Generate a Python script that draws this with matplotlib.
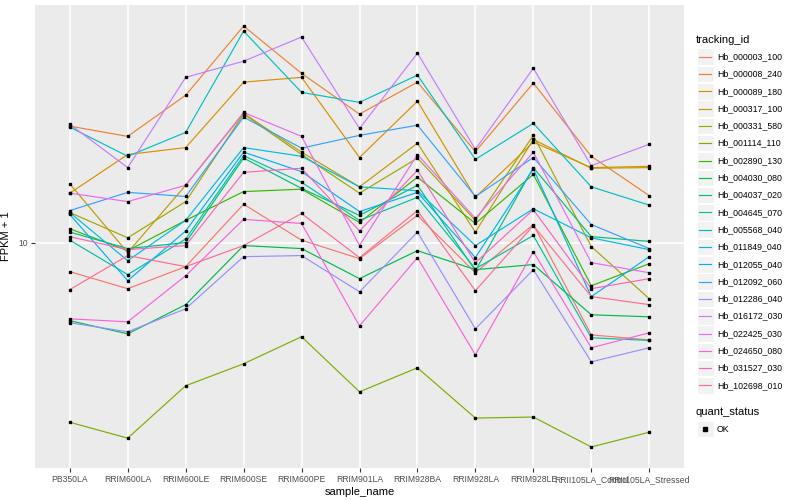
import matplotlib
matplotlib.use('Agg')
import matplotlib.pyplot as plt
import numpy as np
from matplotlib.patches import Rectangle
from matplotlib.lines import Line2D
from matplotlib.ticker import NullLocator

plt.rcParams['font.family'] = ['Liberation Sans', 'DejaVu Sans']

# samples on the x axis
samples = ['PB350LA', 'RRIM600LA', 'RRIM600LE', 'RRIM600SE', 'RRIM600PE', 'RRIM901LA',
           'RRIM928BA', 'RRIM928LA', 'RRIM928LE', 'RRII105LA_Control', 'RRII105LA_Stressed']

tracking_ids = ['Hb_000003_100', 'Hb_000008_240', 'Hb_000089_180', 'Hb_000317_100',
                'Hb_000331_580', 'Hb_001114_110', 'Hb_002890_130', 'Hb_004030_080',
                'Hb_004037_020', 'Hb_004645_070', 'Hb_005568_040', 'Hb_011849_040',
                'Hb_012055_040', 'Hb_012092_060', 'Hb_012286_040', 'Hb_016172_030',
                'Hb_022425_030', 'Hb_024650_080', 'Hb_031527_030', 'Hb_102698_010']

# ggplot hue palette, 20 levels
colors = ['#F8766D', '#EA8331', '#D89000', '#C09B00', '#A3A500', '#7CAE00', '#39B600',
          '#00BB4E', '#00BF7D', '#00C1A3', '#00BFC4', '#00BAE0', '#00B0F6', '#35A2FF',
          '#9590FF', '#C77CFF', '#E76BF3', '#FA62DB', '#FF62BC', '#FF6C91']

# FPKM + 1 per gene, one value per sample
hb_000003_100 = [7.88, 6.85, 8.21, 13.7, 10.2, 8.77, 12.5, 7.81, 11.6, 4.69, 4.50]
hb_000008_240 = [26.0, 23.9, 33.5, 59.1, 40.1, 28.7, 37.3, 21.1, 37.0, 20.3, 14.7]
hb_000089_180 = [15.0, 20.6, 21.8, 37.3, 38.8, 20.1, 31.9, 14.5, 22.8, 18.5, 18.7]
hb_000317_100 = [16.2, 9.21, 16.0, 28.9, 21.0, 15.8, 22.6, 10.9, 23.3, 18.4, 18.5]
hb_000331_580 = [12.8, 10.4, 14.0, 28.7, 20.6, 15.0, 20.0, 12.0, 24.1, 9.68, 6.31]
hb_001114_110 = [2.29, 2.01, 3.09, 3.70, 4.62, 2.94, 3.58, 2.37, 2.39, 1.87, 2.11]
hb_002890_130 = [11.2, 9.36, 12.0, 15.2, 15.5, 11.8, 17.1, 11.7, 17.5, 7.02, 8.41]
hb_004030_080 = [5.27, 4.73, 6.01, 9.76, 9.52, 7.44, 9.36, 8.01, 8.35, 5.53, 5.44]
hb_004037_020 = [10.9, 9.52, 10.0, 20.0, 15.6, 12.5, 16.0, 7.94, 18.5, 10.5, 10.1]
hb_004645_070 = [10.2, 7.69, 10.3, 20.4, 16.4, 12.0, 14.5, 8.07, 10.6, 4.58, 4.48]
hb_005568_040 = [25.8, 20.3, 24.7, 56.7, 34.3, 31.6, 39.5, 19.8, 26.6, 15.8, 13.6]
hb_011849_040 = [12.8, 8.62, 12.0, 21.8, 20.3, 15.8, 15.3, 9.76, 13.2, 10.4, 9.44]
hb_012055_040 = [12.6, 7.32, 11.0, 21.0, 17.9, 12.9, 15.1, 8.84, 18.3, 6.42, 8.91]
hb_012092_060 = [13.0, 15.1, 14.6, 28.0, 21.7, 24.1, 26.2, 14.6, 20.1, 11.6, 9.52]
hb_012286_040 = [5.18, 4.81, 5.81, 8.91, 8.99, 6.68, 10.9, 4.93, 8.01, 3.76, 4.22]
hb_016172_030 = [26.4, 18.5, 38.8, 44.3, 54.0, 25.5, 47.3, 21.5, 41.8, 18.8, 22.4]
hb_022425_030 = [15.0, 14.0, 16.0, 29.1, 23.9, 9.76, 20.6, 12.2, 21.0, 8.48, 7.81]
hb_024650_080 = [5.35, 5.22, 7.62, 12.1, 11.7, 5.05, 8.84, 3.98, 9.29, 4.22, 4.77]
hb_031527_030 = [10.5, 9.44, 9.76, 17.8, 18.4, 11.0, 18.1, 8.48, 13.1, 6.85, 7.44]
hb_102698_010 = [6.80, 8.99, 8.21, 9.76, 12.7, 8.84, 13.0, 6.74, 11.5, 6.42, 6.01]

series = [hb_000003_100, hb_000008_240, hb_000089_180, hb_000317_100, hb_000331_580,
          hb_001114_110, hb_002890_130, hb_004030_080, hb_004037_020, hb_004645_070,
          hb_005568_040, hb_011849_040, hb_012055_040, hb_012092_060, hb_012286_040,
          hb_016172_030, hb_022425_030, hb_024650_080, hb_031527_030, hb_102698_010]

W, H = 800, 500
fig = plt.figure(figsize=(8, 5), dpi=100)
fig.patch.set_facecolor('white')
ax = fig.add_axes([35 / W, 32 / H, 649 / W, 463 / H])
ax.set_facecolor('#EBEBEB')

x = np.arange(len(samples))
for vals, c in zip(series, colors):
    ax.plot(x, vals, color=c, linewidth=0.85, zorder=2)
for vals in series:
    ax.plot(x, vals, linestyle='none', marker='s', markersize=2.1, color='black', zorder=3)

ax.set_yscale('log')
allv = np.concatenate([np.array(s) for s in series])
lo, hi = np.log10(allv.min()), np.log10(allv.max())
pad = 0.05 * (hi - lo)
ax.set_ylim(10 ** (lo - pad), 10 ** (hi + pad))
ax.set_xlim(-0.6, len(samples) - 0.4)
ax.set_yticks([10])
ax.set_yticklabels(['10'])
ax.yaxis.set_minor_locator(NullLocator())
ax.set_xticks(x)
ax.set_xticklabels(samples)

ax.set_axisbelow(True)
ax.grid(True, which='major', color='white', linewidth=1.2)
for s in ax.spines.values():
    s.set_visible(False)
ax.tick_params(axis='both', length=3, width=0.8, color='#333333', labelcolor='#4D4D4D',
               labelsize=6.2, pad=2)

ax.set_xlabel('sample_name', fontsize=8, color='black', labelpad=2)
ax.set_ylabel('FPKM + 1', fontsize=8, color='black', labelpad=5)

# legend: tracking_id
fig.text(696 / W, 1 - 40 / H, 'tracking_id', fontsize=8, va='center', ha='left')
y0 = 56.7
step = 17.3
for i, (tid, c) in enumerate(zip(tracking_ids, colors)):
    yc = y0 + i * step
    fig.add_artist(Rectangle((697 / W, 1 - (yc + 8.3) / H), 16.6 / W, 16.6 / H,
                             transform=fig.transFigure, facecolor='#F2F2F2',
                             edgecolor='white', linewidth=0.8))
    fig.add_artist(Line2D([699 / W, 711 / W], [1 - yc / H, 1 - yc / H],
                          transform=fig.transFigure, color=c, linewidth=0.85))
    fig.text(717 / W, 1 - yc / H, tid, fontsize=6.3, va='center', ha='left')

# legend: quant_status
fig.text(696 / W, 1 - 411.7 / H, 'quant_status', fontsize=8, va='center', ha='left')
yc = 429
fig.add_artist(Rectangle((697 / W, 1 - (yc + 8.3) / H), 16.6 / W, 16.6 / H,
                         transform=fig.transFigure, facecolor='#F2F2F2',
                         edgecolor='white', linewidth=0.8))
fig.add_artist(Line2D([705 / W], [1 - yc / H], transform=fig.transFigure,
                      marker='s', markersize=2.3, color='black', linestyle='none'))
fig.text(717 / W, 1 - yc / H, 'OK', fontsize=6.3, va='center', ha='left')

fig.savefig('out.png', dpi=100)
